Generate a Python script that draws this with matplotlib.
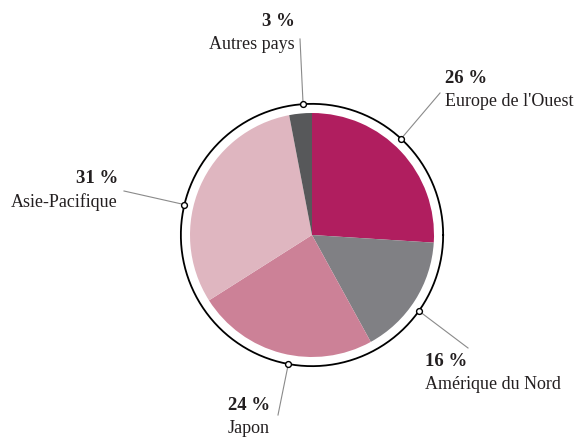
import numpy as np
import matplotlib.pyplot as plt

# Données
regions = ["Europe de l'Ouest", "Amérique du Nord", "Japon", "Asie-Pacifique", "Autres pays"]
parts = [26, 16, 24, 31, 3]
couleurs = ["#b01e5f", "#808084", "#cc8197", "#dfb6c0", "#57585a"]

# Mise en page (pixels de la figure)
W, H = 579, 439
cx, cy, R = 312, 236, 122
texte_pos = [(445, 89), (425, 372), (270, 416), (118, 189), (295, 32)]
texte_ha = ["left", "left", "right", "right", "right"]
fin_ligne = [(440, 94), (468, 349), (278, 416), (124, 192), (300, 40)]
decalage = [4, -3, 4, 10, -1.5]   # décalage angulaire du repère sur l'anneau

fig = plt.figure(figsize=(W / 100, H / 100), dpi=100)
ax = fig.add_axes([0, 0, 1, 1])

wedges, _ = ax.pie(parts, colors=couleurs, startangle=90, counterclock=False,
                   radius=1, center=(0, 0), wedgeprops=dict(linewidth=0),
                   frame=True)
ax.set_xlim(-cx / R, (W - cx) / R)
ax.set_ylim(-(H - cy) / R, cy / R)
ax.set_aspect("equal")
ax.axis("off")

# anneau extérieur
r_anneau = 1.075
t = np.linspace(0, 2 * np.pi, 400)
ax.plot(r_anneau * np.cos(t), r_anneau * np.sin(t), color="black", lw=1.3, zorder=3)

serif = "Liberation Serif"
for w, nom, p, pos, ha, fin, d in zip(wedges, regions, parts, texte_pos, texte_ha, fin_ligne, decalage):
    ang = np.deg2rad((w.theta1 + w.theta2) / 2 + d)
    mx, my = r_anneau * np.cos(ang), r_anneau * np.sin(ang)
    tx, ty = (pos[0] - cx) / R, (cy - pos[1]) / R
    lx, ly = (fin[0] - cx) / R, (cy - fin[1]) / R
    ax.plot([mx, lx], [my, ly], color="#8a8a8a", lw=0.8, zorder=2)
    ax.plot(mx, my, marker="o", ms=4.2, mfc="white", mec="black", mew=1, zorder=4)
    ax.text(tx, ty + 2 / R, f"{p} %", ha=ha, va="bottom", fontsize=13.5,
            fontweight="bold", family=serif, color="#231f20")
    ax.text(tx, ty - 4 / R, nom, ha=ha, va="top", fontsize=13,
            family=serif, color="#231f20")

fig.savefig("out.png", dpi=100)
